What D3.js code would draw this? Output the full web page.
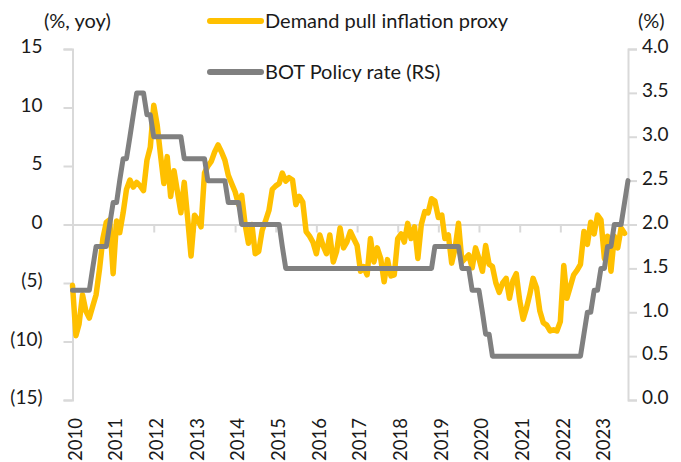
<!DOCTYPE html>
<html>
<head>
<meta charset="utf-8">
<script src="https://cdn.jsdelivr.net/npm/d3@7"></script>
<style>
  html, body { margin: 0; padding: 0; background: #fff; }
  svg { display: block; }
  text { font-family: Lato, "Open Sans", sans-serif; fill: #1a1a1a; }
</style>
</head>
<body>
<svg id="chart" width="681" height="462"></svg>
<script>
// ---- data ----
const startMonth = new Date(2010, 0, 1);
const seriesNames = ["Demand pull inflation proxy", "BOT Policy rate (RS)"];
const leftTicks = [15, 10, 5, 0, -5, -10, -15];
const rightTicks = [4.0, 3.5, 3.0, 2.5, 2.0, 1.5, 1.0, 0.5, 0.0];
const yearLabels = ["2010","2011","2012","2013","2014","2015","2016","2017","2018","2019","2020","2021","2022","2023"];

// Demand pull inflation proxy (% yoy), monthly from Jan 2010
const inflation = [
  -5.2, -9.5, -8.5, -6.0, -7.4, -8.0, -7.0, -6.0, -3.8, -1.2, 0.2, 0.4,
  -4.2, 0.3, -0.7, 1.0, 3.0, 3.8, 3.2, 3.6, 3.3, 2.9, 5.5, 6.6,
  10.2, 8.5, 6.0, 3.5, 5.8, 2.4, 4.6, 2.8, 1.0, 3.6, 0.5, -2.7,
  0.8, 0.4, -0.2, 4.4, 5.0, 5.4, 6.2, 6.8, 6.2, 5.5, 4.2, 3.5,
  2.8, 1.7, 2.5, 0.0, -1.6, 0.0, -2.5, -2.3, -0.5, 0.3, 1.2, 3.0,
  3.3, 3.5, 4.4, 3.7, 4.0, 3.8, 1.7, 2.4, 1.9, -0.6, -1.0, -1.5,
  -2.5, -0.9, -1.8, -2.5, -0.9, -3.2, -2.3, -0.3, -2.0, -1.5, -0.6, -1.2,
  -1.8, -4.0, -3.6, -4.3, -1.2, -3.2, -2.0, -2.9, -4.9, -3.0, -4.4, -4.3,
  -1.2, -0.8, -1.5, 0.1, -1.2, -0.2, -2.9, 0.0, 1.1, 1.0, 2.2, 2.0,
  0.6, 0.8, -1.2, -0.9, -3.3, -2.0, 0.1, -3.2, -2.9, -2.6, -3.7, -2.0,
  -2.9, -4.0, -1.8, -3.4, -3.6, -5.0, -5.8, -5.0, -4.6, -6.3, -4.8, -4.2,
  -6.5, -8.1, -7.2, -6.0, -4.6, -5.4, -7.4, -8.4, -8.6, -9.1, -9.0, -9.1,
  -8.3, -3.5, -6.3, -5.3, -4.3, -3.9, -3.4, -0.6, -1.7, 0.2, -0.8, 0.8,
  0.4, -2.9, -1.0, -4.0, -1.0, -2.0, -0.3, -0.75
];

// BOT policy rate (%), monthly from Jan 2010
const policyRate = [
  1.25, 1.25, 1.25, 1.25, 1.25, 1.25, 1.5, 1.75, 1.75, 1.75, 1.75, 2.0,
  2.25, 2.25, 2.5, 2.75, 2.75, 3.0, 3.25, 3.5, 3.5, 3.5, 3.25, 3.25,
  3.0, 3.0, 3.0, 3.0, 3.0, 3.0, 3.0, 3.0, 3.0, 2.75, 2.75, 2.75,
  2.75, 2.75, 2.75, 2.75, 2.5, 2.5, 2.5, 2.5, 2.5, 2.5, 2.25, 2.25,
  2.25, 2.25, 2.0, 2.0, 2.0, 2.0, 2.0, 2.0, 2.0, 2.0, 2.0, 2.0,
  2.0, 2.0, 1.75, 1.5, 1.5, 1.5, 1.5, 1.5, 1.5, 1.5, 1.5, 1.5,
  1.5, 1.5, 1.5, 1.5, 1.5, 1.5, 1.5, 1.5, 1.5, 1.5, 1.5, 1.5,
  1.5, 1.5, 1.5, 1.5, 1.5, 1.5, 1.5, 1.5, 1.5, 1.5, 1.5, 1.5,
  1.5, 1.5, 1.5, 1.5, 1.5, 1.5, 1.5, 1.5, 1.5, 1.5, 1.5, 1.75,
  1.75, 1.75, 1.75, 1.75, 1.75, 1.75, 1.75, 1.5, 1.5, 1.5, 1.25, 1.25,
  1.25, 1.0, 0.75, 0.75, 0.5, 0.5, 0.5, 0.5, 0.5, 0.5, 0.5, 0.5,
  0.5, 0.5, 0.5, 0.5, 0.5, 0.5, 0.5, 0.5, 0.5, 0.5, 0.5, 0.5,
  0.5, 0.5, 0.5, 0.5, 0.5, 0.5, 0.5, 0.75, 1.0, 1.0, 1.25, 1.25,
  1.5, 1.5, 1.75, 1.75, 2.0, 2.0, 2.0, 2.25, 2.5
];

// ---- layout ----
const colors = { infl: "#FFC000", rate: "#808080", axis: "#d9d9d9" };
const svg = d3.select("#chart");
const months = policyRate.map((_, i) => d3.timeMonth.offset(startMonth, i));

const x = d3.scaleTime()
  .domain([months[0], months[months.length - 1]])
  .range([72.5, 628]);
const yL = d3.scaleLinear().domain([-15, 15]).range([400, 49]);
const yR = d3.scaleLinear().domain([0, 4]).range([400, 49]);

const fmtL = v => v < 0 ? "(" + Math.abs(v) + ")" : String(v);

// left axis
const gL = svg.append("g").attr("transform", "translate(72.5,0)")
  .call(d3.axisLeft(yL).tickValues(leftTicks).tickFormat(fmtL).tickSize(9).tickPadding(21));
gL.select(".domain").attr("stroke", colors.axis).attr("stroke-width", 2);
gL.selectAll(".tick line").attr("stroke", colors.axis).attr("stroke-width", 2);
gL.selectAll(".tick text").attr("font-size", 19).attr("font-family", null).attr("dy", "0.2em");

// right axis
const gR = svg.append("g").attr("transform", "translate(628,0)")
  .call(d3.axisRight(yR).tickValues(rightTicks).tickFormat(d3.format(".1f")).tickSize(9).tickPadding(5));
gR.select(".domain").attr("stroke", colors.axis).attr("stroke-width", 2);
gR.selectAll(".tick line").attr("stroke", colors.axis).attr("stroke-width", 2);
gR.selectAll(".tick text").attr("font-size", 19).attr("font-family", null).attr("dy", "0.2em");

// zero line with year ticks
const yearDates = yearLabels.map(y => new Date(+y, 0, 1));
const gX = svg.append("g").attr("transform", "translate(0," + yL(0) + ")")
  .call(d3.axisBottom(x).tickValues(yearDates).tickFormat(d => d3.timeFormat("%Y")(d)).tickSize(8).tickSizeOuter(0).tickPadding(0));
gX.select(".domain").attr("stroke", colors.axis).attr("stroke-width", 2);
gX.selectAll(".tick line").attr("stroke", colors.axis).attr("stroke-width", 2);
gX.selectAll(".tick text")
  .attr("font-size", 18.5).attr("font-family", null)
  .attr("text-anchor", "end")
  .attr("transform", "translate(2," + (418 - yL(0)) + ") rotate(-90)")
  .attr("x", 0).attr("y", 0).attr("dy", "0.36em");

// lines
const lineInfl = d3.line().x((d, i) => x(months[i])).y(d => yL(d));
const lineRate = d3.line().x((d, i) => x(months[i])).y(d => yR(d));

svg.append("path").datum(inflation)
  .attr("d", lineInfl).attr("fill", "none")
  .attr("stroke", colors.infl).attr("stroke-width", 5.5)
  .attr("stroke-linejoin", "round").attr("stroke-linecap", "round");
svg.append("path").datum(policyRate)
  .attr("d", lineRate).attr("fill", "none")
  .attr("stroke", colors.rate).attr("stroke-width", 5)
  .attr("stroke-linejoin", "round").attr("stroke-linecap", "round");

// axis titles
svg.append("text").attr("x", 44).attr("y", 21).attr("dy", "0.35em")
  .attr("font-size", 20).text("(%, yoy)");
svg.append("text").attr("x", 638).attr("y", 21).attr("dy", "0.35em")
  .attr("font-size", 20).text("(%)");

// legend
const legend = [
  { name: seriesNames[0], color: colors.infl, y: 21 },
  { name: seriesNames[1], color: colors.rate, y: 72 }
];
const lg = svg.append("g");
legend.forEach(l => {
  lg.append("line").attr("x1", 210).attr("x2", 261).attr("y1", l.y).attr("y2", l.y)
    .attr("stroke", l.color).attr("stroke-width", 6).attr("stroke-linecap", "round");
  lg.append("text").attr("x", 265).attr("y", l.y).attr("dy", "0.35em")
    .attr("font-size", 20).text(l.name);
});
</script>
</body>
</html>
